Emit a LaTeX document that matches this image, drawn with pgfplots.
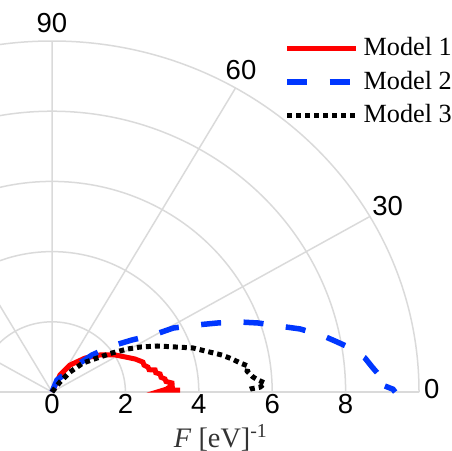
\documentclass[border=0pt]{standalone}
\usepackage{fontspec}
\setmainfont{Liberation Serif}
\newfontfamily\arialfont{Liberation Sans}
\usepackage{pgfplots}
\pgfplotsset{compat=1.18}
\usepgfplotslibrary{polar}
\definecolor{gridgray}{RGB}{218,218,218}
\definecolor{mblue}{RGB}{0,55,255}
\definecolor{mred}{RGB}{255,0,0}
\newcommand{\tickfont}{\arialfont\fontsize{11}{12}\selectfont}
\begin{document}
\begin{tikzpicture}
\begin{polaraxis}[
  scale only axis, clip=false,
  width=293.6pt, height=280.8pt,
  xmin=0, xmax=180, ymin=0, ymax=10,
  xtick={0,30,60,90,120,150,180},
  xticklabels={},
  ytick={0,2,4,6,8},
  grid=major,
  major grid style={gridgray, line width=0.6pt},
  axis line style={gridgray, line width=0.6pt},
  tick style={draw=none},
  ticklabel style={font=\tickfont},
  yticklabel style={anchor=north, inner sep=0pt, yshift=-0.8pt},
  /pgf/number format/assume math mode=true,
  legend style={draw=none, fill=none, at={(axis cs:42.87,15.07)}, anchor=north east,
    font=\fontsize{10.5}{12}\selectfont, row sep=0.6pt, inner sep=0pt},
  legend cell align=left,
  legend image code/.code={\draw[#1] (0pt,0pt) -- (27.5pt,0pt);},
]
\coordinate (O) at (axis cs:0,0);
\node[font=\tickfont, anchor=south, inner sep=0pt, yshift=3.2pt] at (axis cs:90,10) {90};
\node[font=\tickfont, anchor=south, inner sep=0pt, xshift=2.2pt, yshift=3.2pt] at (axis cs:60,10) {60};
\node[font=\tickfont, anchor=south west, inner sep=0pt, xshift=0.8pt] at (axis cs:30,10) {30};
\node[font=\tickfont, anchor=west, inner sep=0pt, xshift=1.8pt, yshift=1pt] at (axis cs:0,10) {0};
\addplot[mred, line width=2pt, no markers] coordinates {
(72,0) (65.8,0.53) (57.5,0.91) (47.1,1.32) (38.9,1.68) (31.5,2.02) (26.6,2.23)
(22.6,2.45) (19,2.62) (17,2.62) (15.2,2.71) (13.5,2.72) (12.6,2.88) (11,2.88)
(9.9,2.99) (8,3.0) (6.9,3.10) (5.5,3.12) (4.5,3.28) (3,3.28) (2.5,3.2) (1.5,3.12)
(1.0,3.03) (0.9,3.49)
};
\addlegendentry{Model 1}
\addplot[mblue, line width=2.2pt, dash pattern=on 8pt off 9pt, no markers] coordinates {
(72,0) (68.3,0.37) (48.5,1.03) (44.0,1.52) (38.7,2.10) (34.2,2.64) (30.5,3.20)
(28.9,3.77) (25.8,4.39) (23.6,4.91) (21.5,5.45) (19.3,5.95) (16.8,6.49) (14.9,6.99)
(12.4,7.53) (10.4,7.90) (8.8,8.22) (6.5,8.58) (4.5,8.77) (2.9,8.95) (2.2,8.81)
(1.3,8.99) (0.5,9.29) (0,9.35)
};
\addlegendentry{Model 2}
\addplot[black, line width=2pt, dash pattern=on 2pt off 1.6pt, no markers] coordinates {
(55,0) (52.6,0.36) (49.3,0.75) (44.4,1.18) (38.3,1.56) (34.2,1.98) (30.9,2.38)
(28.1,2.72) (24.6,3.15) (20.6,3.64) (18.1,4.04) (14.8,4.45) (12.8,4.75) (10.9,4.99)
(9.2,5.19) (7.9,5.39) (6.4,5.35) (4.5,5.49) (3.5,5.62) (2.5,5.81) (1.4,5.67)
(0.9,5.40) (0.5,5.3)
};
\addlegendentry{Model 3}
\end{polaraxis}
\node[font=\fontsize{11.3}{12}\selectfont, text=black!80, anchor=base] at ([shift={(67.6pt,-22pt)}]O) {\textit{F} [eV]\textsuperscript{-1}};
\pgfresetboundingbox
\useasboundingbox ([shift={(-20.8pt,-23.2pt)}]O) rectangle ([shift={(160pt,156.8pt)}]O);
\end{tikzpicture}
\end{document}
